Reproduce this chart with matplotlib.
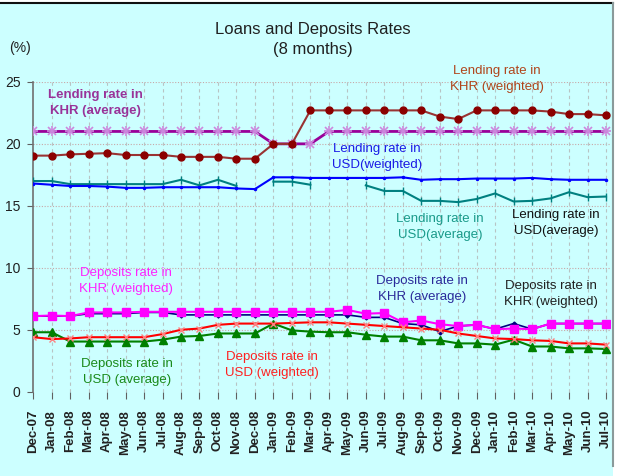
import matplotlib.pyplot as plt
from matplotlib.patches import Rectangle
from matplotlib.lines import Line2D
import numpy as np

plt.rcParams['font.family'] = ['Liberation Sans', 'DejaVu Sans']

BG = '#CCFFFF'
W, H = 626, 476
nan = np.nan

months = ['Dec-07', 'Jan-08', 'Feb-08', 'Mar-08', 'Apr-08', 'May-08', 'Jun-08', 'Jul-08',
          'Aug-08', 'Sep-08', 'Oct-08', 'Nov-08', 'Dec-08', 'Jan-09', 'Feb-09', 'Mar-09',
          'Apr-09', 'May-09', 'Jun-09', 'Jul-09', 'Aug-09', 'Sep-09', 'Oct-09', 'Nov-09',
          'Dec-09', 'Jan-10', 'Feb-10', 'Mar-10', 'Apr-10', 'May-10', 'Jun-10', 'Jul-10']

# lending rates
lend_khr_avg = [21.0] * 13 + [20.0, 20.0, 20.0] + [21.0] * 16
lend_khr_wtd = [19.05, 19.05, 19.15, 19.2, 19.25, 19.1, 19.1, 19.1, 18.95, 18.95, 18.95,
                18.8, 18.8, 20.0, 20.0, 22.7, 22.7, 22.7, 22.7, 22.7, 22.7, 22.7, 22.2,
                22.0, 22.7, 22.7, 22.7, 22.7, 22.6, 22.4, 22.4, 22.3]
lend_usd_wtd = [16.8, 16.7, 16.6, 16.6, 16.55, 16.45, 16.45, 16.5, 16.5, 16.5, 16.5,
                16.4, 16.35, 17.3, 17.3, 17.25, 17.25, 17.25, 17.25, 17.25, 17.3, 17.1,
                17.15, 17.15, 17.2, 17.2, 17.2, 17.25, 17.15, 17.1, 17.1, 17.1]
lend_usd_avg = [17.0, 17.0, 16.75, 16.75, 16.75, 16.75, 16.75, 16.75, 17.1, 16.65, 17.1,
                16.6, nan, 16.95, 16.95, 16.7, nan, nan, 16.65, 16.2, 16.2, 15.4, 15.4,
                15.3, 15.55, 16.0, 15.35, 15.4, 15.6, 16.1, 15.7, 15.75]

# deposit rates
dep_khr_wtd = [6.1, 6.15, 6.1, 6.4, 6.4, 6.4, 6.45, 6.45, 6.45, 6.45, 6.45, 6.45, 6.45,
               6.45, 6.45, 6.45, 6.45, 6.6, 6.3, 6.35, 5.6, 5.75, 5.45, 5.3, 5.4, 5.05,
               5.1, 5.05, 5.5, 5.5, 5.5, 5.5]
dep_khr_avg = [6.1, 6.1, 6.1, 6.3, 6.3, 6.3, 6.4, 6.4, 6.2, 6.2, 6.2, 6.2, 6.2, 6.2, 6.2,
               6.2, 6.2, 6.2, 6.0, 6.0, 5.5, 5.4, 4.85, 5.3, 5.4, 5.05, 5.5, 5.05, 5.5,
               5.5, 5.5, 5.5]
dep_usd_wtd = [4.4, 4.25, 4.3, 4.4, 4.4, 4.4, 4.4, 4.65, 5.0, 5.1, 5.4, 5.5, 5.5, 5.5,
               5.55, 5.6, 5.6, 5.5, 5.4, 5.3, 5.2, 5.1, 5.0, 4.7, 4.5, 4.3, 4.25, 4.15,
               4.1, 3.9, 3.9, 3.8]
dep_usd_avg = [4.8, 4.8, 4.05, 4.05, 4.05, 4.05, 4.05, 4.2, 4.45, 4.5, 4.7, 4.7, 4.7, 5.5,
               4.95, 4.85, 4.8, 4.8, 4.6, 4.45, 4.45, 4.15, 4.15, 3.9, 3.9, 3.8, 4.2, 3.65,
               3.65, 3.5, 3.5, 3.45]

x = np.arange(len(months))

fig = plt.figure(figsize=(W / 100, H / 100), dpi=100, facecolor='white')
# cyan chart frame (the screenshot cuts it off at the right)
fig.patches.append(Rectangle((0, 0), 613 / W, 1 - 2.5 / H, transform=fig.transFigure,
                             facecolor=BG, edgecolor='none', zorder=-5))
fig.lines.append(Line2D([0, 613 / W], [1 - 2.5 / H] * 2, transform=fig.transFigure,
                        color='#101010', lw=1.5, zorder=-4))
fig.lines.append(Line2D([613 / W] * 2, [0.02, 1 - 2.5 / H], transform=fig.transFigure,
                        color='#8A9A9A', lw=1.5, zorder=-4))

ax = fig.add_axes([0.053, 0.177, 0.921, 0.651], facecolor=BG)
ax.set_zorder(5)

# grid
for v in [5, 10, 15, 20, 25]:
    ax.axhline(v, color='#C8A8A8', lw=0.8, ls=(0, (1, 1.5)), zorder=1)
for xi in x[1:]:
    ax.axvline(xi, color='#B8C4C4', lw=0.8, ls=(0, (3, 3)), zorder=1)

ax.plot(x, lend_khr_avg, color='#990099', lw=2, marker='x', ms=5.5, mec='#CC88DD', mew=1.2, zorder=3)
ax.plot(x, lend_khr_avg, ls='none', marker='+', ms=6.5, mec='#CC88DD', mew=1.2, zorder=3)
ax.plot(x, lend_khr_wtd, color='#993333', lw=1.5, marker='o', ms=5, mfc='#8B0000', mec='#8B0000', zorder=3)
ax.plot(x, lend_usd_avg, color='#008080', lw=1.5, marker='|', ms=6, mec='#008080', zorder=3)
ax.plot(x, lend_usd_wtd, color='#0000FF', lw=1.5, marker='.', ms=3, zorder=3)

ax.plot(x, dep_khr_avg, color='#000080', lw=1.2, marker='D', ms=2.5, zorder=2.5)
ax.plot(x, dep_khr_wtd, color='#FF00FF', lw=1.5, marker='s', ms=5.5, zorder=3)
ax.plot(x, dep_usd_avg, color='#008000', lw=1.5, marker='^', ms=5.5, zorder=3)
ax.plot(x, dep_usd_wtd, color='#FF0000', lw=1.5, marker='x', ms=5, mec='#FF8080', mew=1.0, zorder=3)

ax.set_xlim(0, 31.2)
ax.set_ylim(0, 25)
ax.set_yticks([0, 5, 10, 15, 20, 25])
ax.set_xticks(x)
ax.set_xticklabels(months, rotation=90, fontsize=9.5, fontweight='bold', color='#222222')
ax.tick_params(axis='y', labelsize=10, length=4, color='#606060', labelcolor='#202020', pad=5)
ax.tick_params(axis='x', length=5, color='#606060', pad=8)
for s in ['top', 'right', 'bottom']:
    ax.spines[s].set_visible(False)
ax.spines['left'].set_color('#707070')
ax.spines['left'].set_linewidth(1.2)

fig.text(0.500, 0.937, 'Loans and Deposits Rates', ha='center', va='center', fontsize=12, color='#202020')
fig.text(0.500, 0.895, '(8 months)', ha='center', va='center', fontsize=12, color='#202020')
fig.text(0.032, 0.900, '(%)', ha='center', va='center', fontsize=10, color='#202020')

def note(px, py, txt, col, weight='normal'):
    fig.text(px / W, 1 - py / H, txt, ha='center', va='center', fontsize=9.5,
             color=col, linespacing=1.45, fontweight=weight, zorder=10)

note(95, 103, 'Lending rate in\nKHR (average)', '#993399', 'bold')
note(497, 79, 'Lending rate in\nKHR (weighted)', '#B0441A')
note(377, 157, 'Lending rate in\nUSD(weighted)', '#1A1AE6')
note(440, 227, 'Lending rate in\nUSD(average)', '#1A9A8A')
note(556, 223, 'Lending rate in\nUSD(average)', '#101010')
note(126, 281, 'Deposits rate in\nKHR (weighted)', '#FF22FF')
note(422, 289, 'Deposits rate in\nKHR (average)', '#2A2A9A')
note(551, 294, 'Deposits rate in\nKHR (weighted)', '#202020')
note(127, 372, 'Deposits rate in\nUSD (average)', '#1A8A1A')
note(272, 365, 'Deposits rate in\nUSD (weighted)', '#FF2020')

fig.savefig('out.png', dpi=100, facecolor='white')
